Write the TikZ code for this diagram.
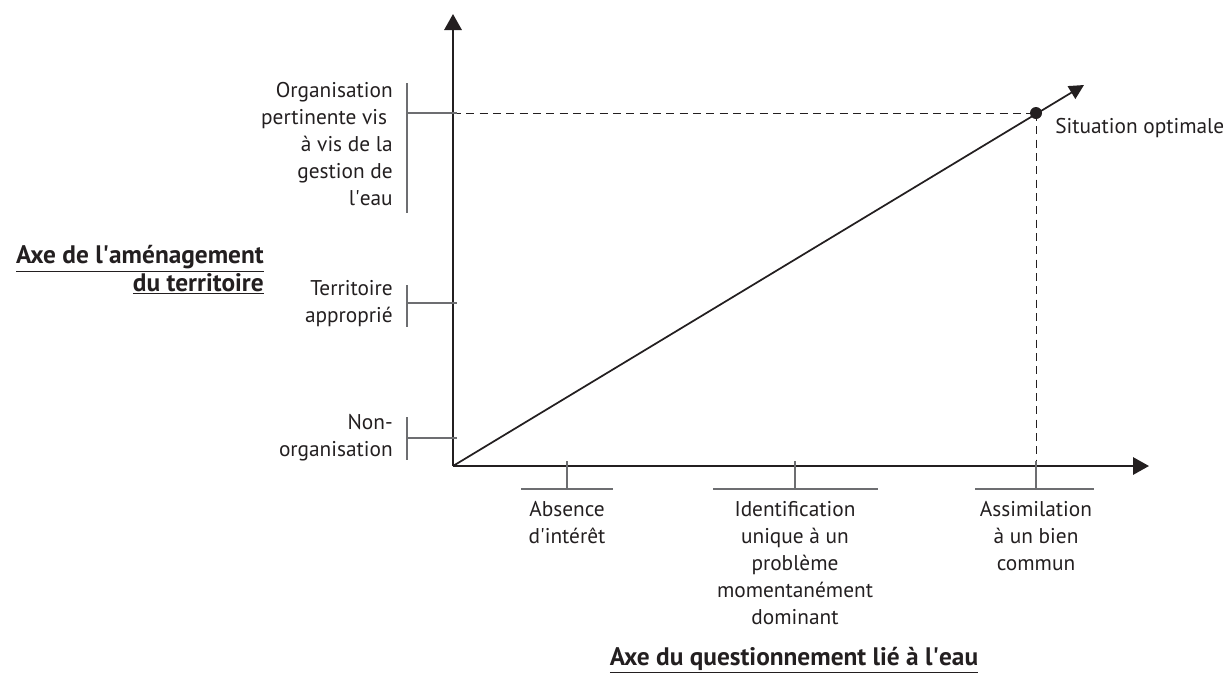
\documentclass[tikz,border=0pt]{standalone}
\usepackage{fontspec}
\setmainfont{PT Sans}
\usetikzlibrary{arrows.meta}
\definecolor{ink}{HTML}{231F20}
\definecolor{tickgray}{HTML}{6D6E71}
\newcommand{\aq}{\textquotesingle}
\begin{document}
\begin{tikzpicture}[x=0.75pt,y=-0.75pt,
  axis/.style={draw=ink,line width=1.6pt,-{Triangle[length=12pt,width=13pt]}},
  diag/.style={draw=ink,line width=1.3pt,-{Triangle[length=11pt,width=11pt]}},
  tickline/.style={draw=tickgray,line width=0.9pt},
  guide/.style={draw=ink,line width=0.7pt,dash pattern=on 6pt off 4pt},
  lab/.style={font=\fontsize{16}{20.25}\selectfont,text=ink,inner sep=0pt},
  title/.style={font=\fontsize{19}{20.5}\selectfont\bfseries,text=ink,inner sep=0pt}]
\useasboundingbox (0,0) rectangle (1232,676);
% key points
\coordinate (O) at (453,466);
\coordinate (ytip) at (453,14);
\coordinate (xtip) at (1149,466);
\coordinate (dtip) at (1084,85);
\coordinate (yopt) at (453,113);
\coordinate (xopt) at (1036,466);
% guides
\node[circle,fill=ink,inner sep=0pt,minimum size=9pt] (dot) at (1036,113) {};
\draw[guide] (yopt) -- (dot.center);
\draw[guide] (dot.center) -- (xopt);
% axes
\draw[axis] (O) -- (ytip);
\draw[axis] (O) -- (xtip);
\draw[diag] (O) -- (dtip);
% y ticks
\coordinate (yb1t) at (407,83);  \coordinate (yb1b) at (407,213); \coordinate (yb1m) at (407,113);
\coordinate (yb2t) at (407,285); \coordinate (yb2b) at (407,327); \coordinate (yb2m) at (407,303);
\coordinate (yb3t) at (407,417); \coordinate (yb3b) at (407,460); \coordinate (yb3m) at (407,438);
\coordinate (ya1) at (457,113); \coordinate (ya2) at (457,303); \coordinate (ya3) at (457,438);
\draw[tickline] (yb1t) -- (yb1b);
\draw[tickline] (yb2t) -- (yb2b);
\draw[tickline] (yb3t) -- (yb3b);
\draw[tickline] (yb1m) -- (ya1);
\draw[tickline] (yb2m) -- (ya2);
\draw[tickline] (yb3m) -- (ya3);
% x ticks
\coordinate (xb1l) at (521,489); \coordinate (xb1r) at (613,489); \coordinate (xb1m) at (567,489);
\coordinate (xb2l) at (713,489); \coordinate (xb2r) at (878,489); \coordinate (xb2m) at (795,489);
\coordinate (xb3l) at (975,489); \coordinate (xb3r) at (1094,489); \coordinate (xb3m) at (1036,489);
\coordinate (xa1) at (567,461); \coordinate (xa2) at (795,461); \coordinate (xa3) at (1036,461);
\draw[tickline] (xb1l) -- (xb1r);
\draw[tickline] (xb2l) -- (xb2r);
\draw[tickline] (xb3l) -- (xb3r);
\draw[tickline] (xb1m) -- (xa1);
\draw[tickline] (xb2m) -- (xa2);
\draw[tickline] (xb3m) -- (xa3);
% y labels
\node[lab,align=right,anchor=east] (l1) at (393,144) {Organisation\\pertinente vis\phantom{ }\\à vis de la\\gestion de\\l\aq eau};
\node[lab,align=right,anchor=east] (l2) at (393,304) {Territoire\\approprié};
\node[lab,align=right,anchor=east] (l3) at (393,438) {Non-\\organisation};
% x labels
\node[lab,align=center] (b1) at (567,523) {Absence\\d\aq intérêt};
\node[lab,align=center] (b2) at (795,563) {Identification\\unique à un\\problème\\momentanément\\dominant};
\node[lab,align=center] (b3) at (1036,536) {Assimilation\\à un bien\\commun};
% point label
\node[lab,anchor=west] (opt) at (1055,128) {Situation optimale};
% axis titles
\node[title,align=right,anchor=east] (ty) at (264,270) {\underline{Axe de l\aq aménagement}\\\underline{du territoire}};
\node[title] (tx) at (794,660) {\underline{Axe du questionnement lié à l\aq eau}};
\end{tikzpicture}
\end{document}
